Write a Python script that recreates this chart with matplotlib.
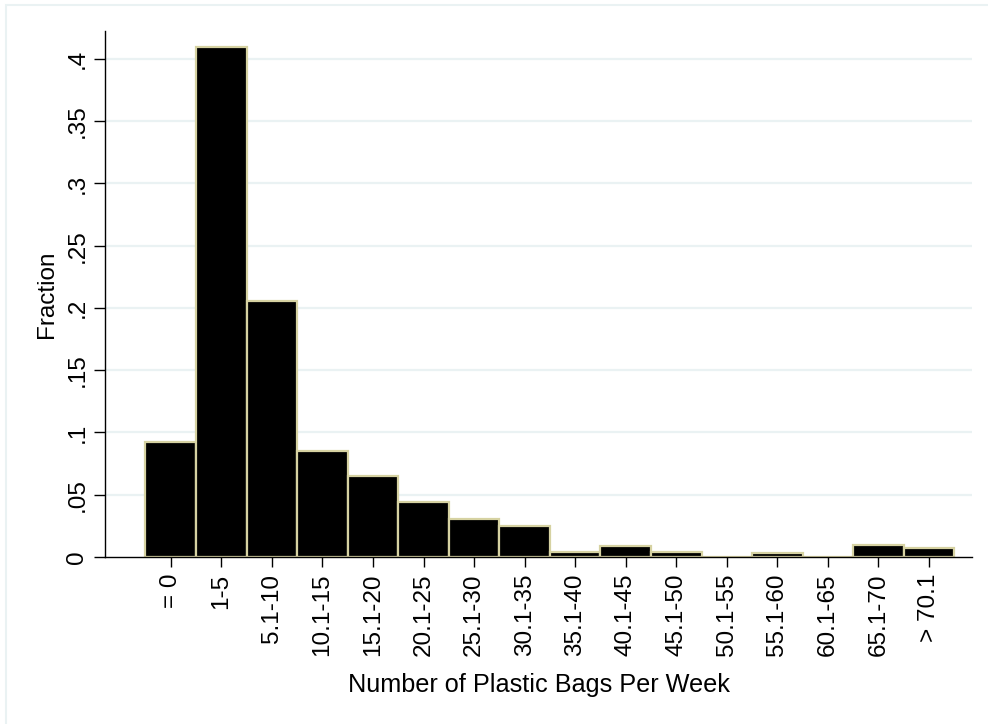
import numpy as np
import matplotlib.pyplot as plt
from matplotlib.patches import Rectangle

plt.rcParams['font.family'] = ['Liberation Sans', 'DejaVu Sans']

# bins of plastic bags per week and their fractions
categories = ['= 0', '1-5', '5.1-10', '10.1-15', '15.1-20', '20.1-25', '25.1-30',
              '30.1-35', '35.1-40', '40.1-45', '45.1-50', '50.1-55', '55.1-60',
              '60.1-65', '65.1-70', '> 70.1']
fractions = [0.092, 0.410, 0.206, 0.085, 0.065, 0.044, 0.0305, 0.0245,
             0.004, 0.0085, 0.004, 0.0, 0.003, 0.0, 0.010, 0.007]
yticks = [0, 0.05, 0.1, 0.15, 0.2, 0.25, 0.3, 0.35, 0.4]
ytick_labels = ['0', '.05', '.1', '.15', '.2', '.25', '.3', '.35', '.4']

fs = 17.5
grid_col = '#eaf2f3'

fig = plt.figure(figsize=(9.88, 7.24), dpi=100)
fig.patches.append(Rectangle((6 / 988, -0.01), 1.0, 1 - 5 / 724 + 0.01,
                             transform=fig.transFigure, fill=False,
                             edgecolor=grid_col, linewidth=1.5))
ax = fig.add_axes([0.1063, 0.2307, 0.8775, 0.7265])

x = np.arange(len(categories))
ax.bar(x, fractions, width=1.0, color='black', edgecolor='#d6d2a2',
       linewidth=1.6, zorder=3)

ax.set_xlim(-1.30, 15.85)
ax.set_ylim(0, 0.4225)

ax.set_yticks(yticks)
ax.set_yticklabels(ytick_labels)
ax.set_xticks(x)
ax.set_xticklabels(categories)

for y in yticks[1:]:
    ax.axhline(y, color=grid_col, linewidth=1.6, zorder=1)

ax.tick_params(axis='y', labelrotation=90, length=8, width=1, pad=4, labelsize=fs)
for lab in ax.get_yticklabels():
    lab.set_va('center')
ax.tick_params(axis='x', labelrotation=90, length=7, width=1, pad=5, labelsize=fs)

for s in ['top', 'right']:
    ax.spines[s].set_visible(False)
ax.spines['left'].set_linewidth(1)
ax.spines['bottom'].set_linewidth(1)
ax.spines['bottom'].set_zorder(4)

ax.set_ylabel('Fraction', fontsize=fs, labelpad=6)
ax.set_xlabel('Number of Plastic Bags Per Week', fontsize=18.2, labelpad=12)

fig.savefig('out.png', dpi=100)
